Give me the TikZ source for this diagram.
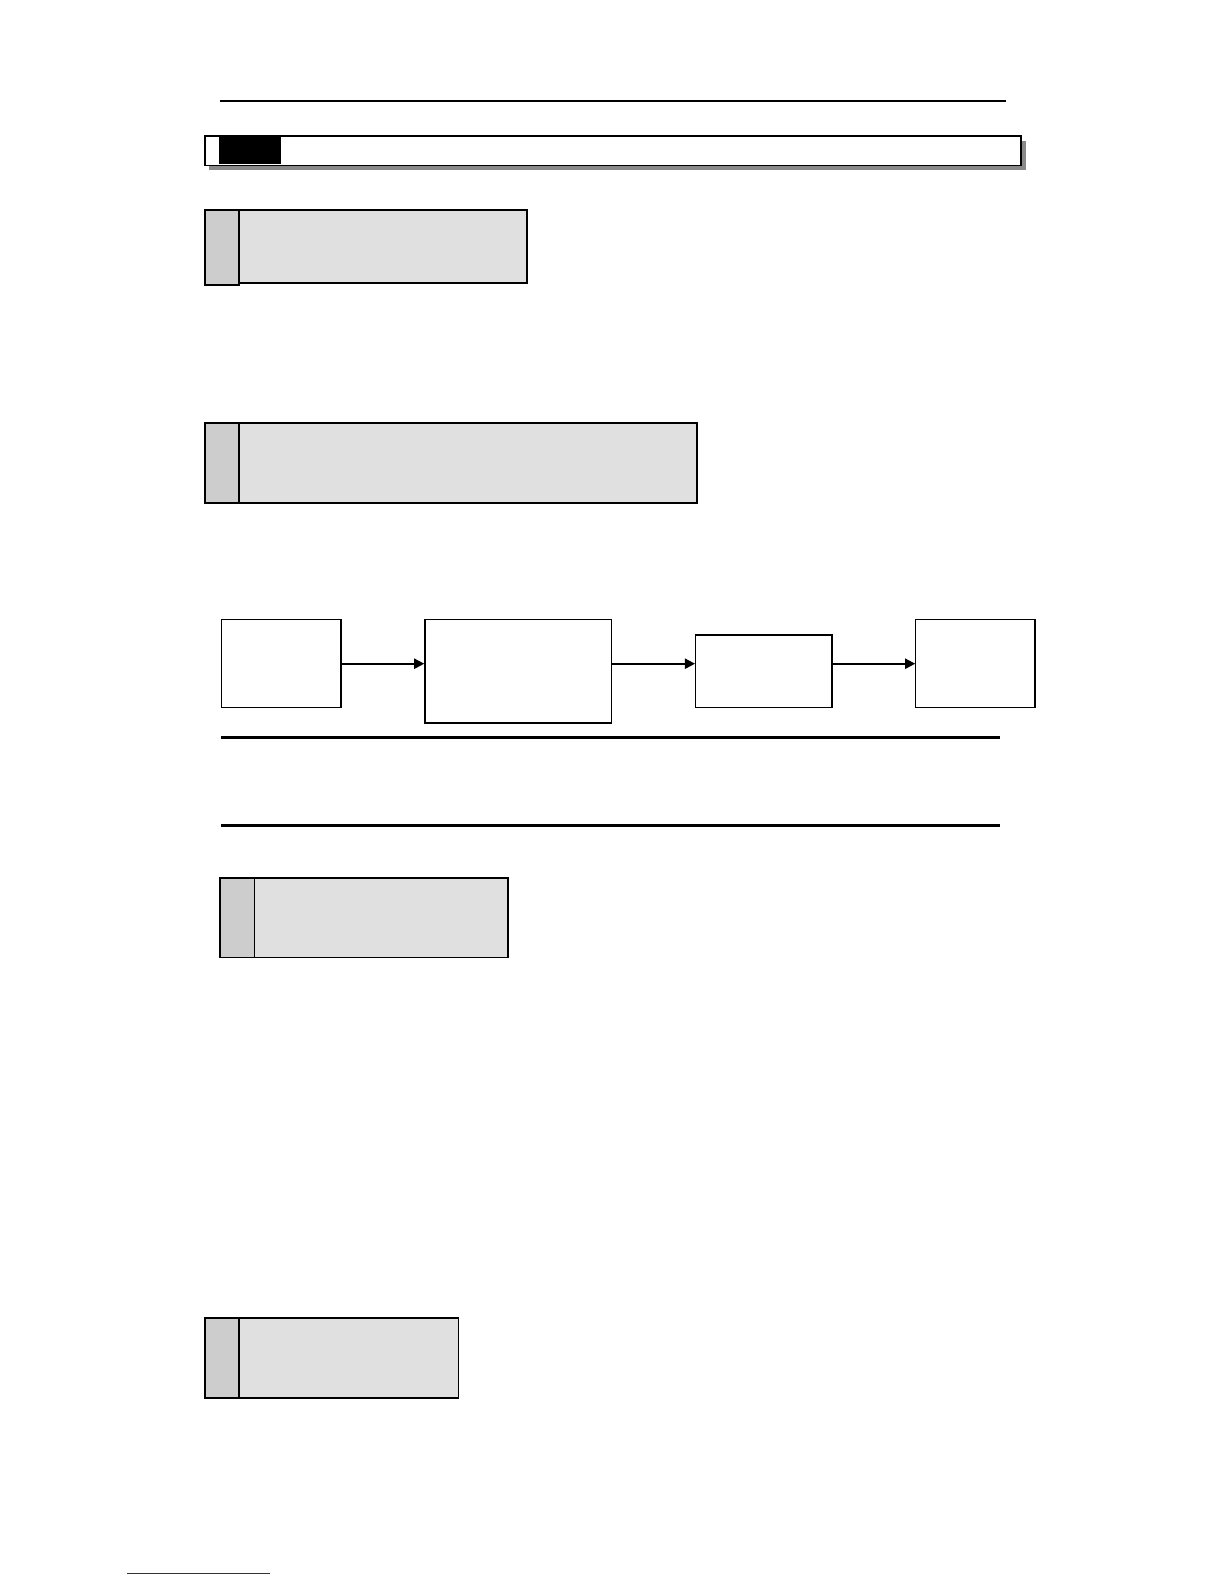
\documentclass[tikz,border=0pt]{standalone}
\usetikzlibrary{arrows.meta, positioning}
\definecolor{tabgray}{HTML}{CDCDCD}
\definecolor{panelgray}{HTML}{E0E0E0}
\definecolor{shadowgray}{HTML}{888888}
\definecolor{linkblue}{HTML}{1F2A9A}
\tikzset{
  panel/.style={rectangle, draw, line width=1.8pt, fill=panelgray, anchor=north west,
    inner sep=0pt},
  tab/.style={rectangle, draw, line width=1.8pt, fill=tabgray, anchor=north west,
    minimum width=34pt, inner sep=0pt},
  stage/.style={rectangle, draw, line width=1.2pt, fill=white, anchor=north west, inner sep=0pt},
  rule/.style={line width=2.4pt},
  line/.style={-{Triangle[length=10pt, width=10pt]}, line width=1.8pt}
}

\begin{document}
\begin{tikzpicture}[x=1pt, y=-1pt]
\useasboundingbox (0,0) rectangle (1212,1568);

% ---- cabecera ----
\coordinate (hdl) at (218,100);
\coordinate (hdr) at (996,100);
\draw[line width=2pt] (hdl) -- (hdr);

\node[rectangle, fill=shadowgray, anchor=north west, minimum width=808pt, minimum height=29pt,
  inner sep=0pt] (titleshadow) at (207,139) {};
\node[rectangle, draw, line width=1.6pt, fill=white, anchor=north west, minimum width=808pt,
  minimum height=29pt, inner sep=0pt] (title) at (202,134) {};
\node[rectangle, fill=black, anchor=north west, minimum width=61pt, minimum height=28pt,
  inner sep=0pt] (titleblock) at (217,134.5) {};

% ---- paneles grises ----
\node[panel, minimum width=319pt, minimum height=72pt] (sec1) at (202,207) {};
\node[tab, minimum height=74pt] (sec1tab) at (sec1.north west) {};

\node[panel, minimum width=487pt, minimum height=79pt] (sec2) at (202,418) {};
\node[tab, minimum height=79pt] (sec2tab) at (sec2.north west) {};

% ---- flujo ----
\node[stage, minimum width=118pt, minimum height=87pt] (src) at (219,613) {};
\node[stage, minimum width=185pt, minimum height=102pt] (proc) at (420,613) {};
\node[stage, minimum width=135pt, minimum height=72pt] (mid) at (688,628) {};
\node[stage, minimum width=118pt, minimum height=87pt] (out) at (906,613) {};

\draw[line] (src.east |- 0,657) -- (proc.west |- 0,657);
\draw[line] (proc.east |- 0,657) -- (mid.west |- 0,657);
\draw[line] (mid.east |- 0,657) -- (out.west |- 0,657);

\coordinate (r1l) at (219,730);
\coordinate (r1r) at (990,730);
\coordinate (r2l) at (219,817);
\coordinate (r2r) at (990,817);
\draw[rule] (r1l) -- (r1r);
\draw[rule] (r2l) -- (r2r);

\node[panel, minimum width=285pt, minimum height=79pt] (sec3) at (217,868) {};
\node[tab, minimum height=79pt] (sec3tab) at (sec3.north west) {};

\node[panel, minimum width=251pt, minimum height=79pt] (sec4) at (202,1304) {};
\node[tab, minimum height=79pt] (sec4tab) at (sec4.north west) {};

% ---- pie ----
\coordinate (ftl) at (126,1558);
\coordinate (ftr) at (267,1558);
\draw[linkblue, line width=1pt] (ftl) -- (ftr);

\end{tikzpicture}
\end{document}
